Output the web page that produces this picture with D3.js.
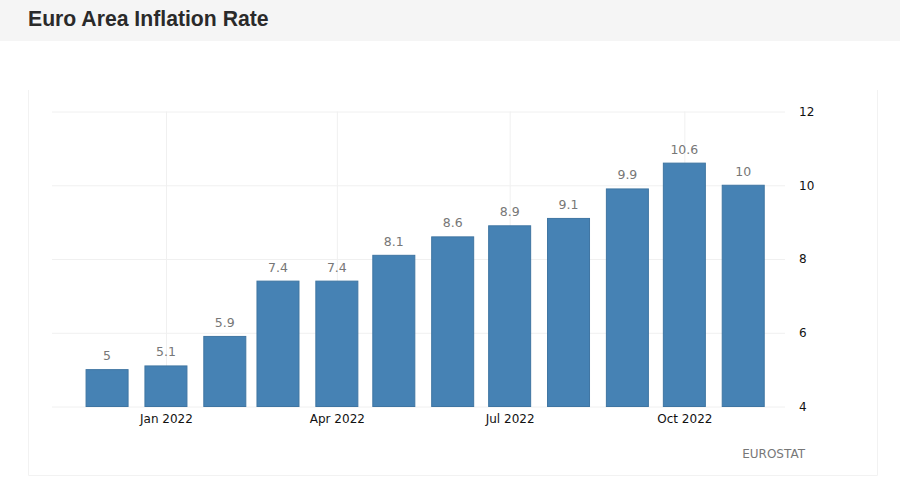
<!DOCTYPE html>
<html>
<head>
<meta charset="utf-8">
<script src="https://cdn.jsdelivr.net/npm/d3@7"></script>
<style>
  html, body { margin: 0; padding: 0; background: #fff; }
  svg { display: block; }
  .tick-label { font-family: "DejaVu Sans", sans-serif; font-size: 12px; fill: #111; }
  .value { font-family: "DejaVu Sans", sans-serif; font-size: 12.5px; fill: #777; text-anchor: middle; }
  .grid line { stroke: #f0f0f0; }
  .grid path { display: none; }
</style>
</head>
<body>
<div id="chart"></div>
<script>
const parseMonth = d3.timeParse('%Y-%m');

const data = [
  ['2021-12', 5], ['2022-01', 5.1], ['2022-02', 5.9], ['2022-03', 7.4],
  ['2022-04', 7.4], ['2022-05', 8.1], ['2022-06', 8.6], ['2022-07', 8.9],
  ['2022-08', 9.1], ['2022-09', 9.9], ['2022-10', 10.6], ['2022-11', 10]
].map(d => ({date: parseMonth(d[0]), value: d[1]}));

const svg = d3.select('#chart').append('svg')
  .attr('width', 900)
  .attr('height', 503);

// Grey title strip
svg.append('rect')
  .attr('width', 900)
  .attr('height', 41)
  .attr('fill', '#f5f5f5');

svg.append('text')
  .attr('x', 28)
  .attr('y', 26)
  .attr('font-family', '"Liberation Sans", Arial, sans-serif')
  .attr('font-size', 21.2)
  .attr('font-weight', 700)
  .attr('fill', '#2a2a2a')
  .text('Euro Area Inflation Rate');

// Chart panel frame
svg.append('path')
  .attr('d', 'M28.5,90V475.5H877.5V90')
  .attr('fill', 'none')
  .attr('stroke', '#f2f2f2');

const x = d3.scaleTime()
  .domain([new Date(2021, 10, 2), new Date(2022, 10, 23)])
  .range([52, 785]);

const y = d3.scaleLinear()
  .domain([4, 12])
  .range([406.5, 111.5]);

const barWidth = 42;
const xTicks = [new Date(2022, 0, 1), new Date(2022, 3, 1), new Date(2022, 6, 1), new Date(2022, 9, 1)];

// Grid lines
svg.append('g')
  .attr('class', 'grid')
  .attr('transform', 'translate(0,406.5)')
  .call(d3.axisBottom(x).tickValues(xTicks).tickSize(-295).tickFormat(''));

svg.append('g')
  .attr('class', 'grid')
  .attr('transform', 'translate(785,0)')
  .call(d3.axisLeft(y).tickValues([4, 6, 8, 10, 12]).tickSize(733).tickFormat(''));

// Bars
svg.selectAll('.bar')
  .data(data)
  .enter().append('rect')
  .attr('class', 'bar')
  .attr('x', d => x(d.date) - barWidth / 2)
  .attr('y', d => y(d.value))
  .attr('width', barWidth)
  .attr('height', d => y(4) - y(d.value))
  .attr('fill', '#4682b4')
  .attr('stroke', '#3f75a2')
  .attr('stroke-width', 1);

// Value labels
svg.selectAll('.value')
  .data(data)
  .enter().append('text')
  .attr('class', 'value')
  .attr('x', d => x(d.date))
  .attr('y', d => y(d.value) - 9.5)
  .text(d => d.value);

// Axis labels
const xAxis = svg.append('g')
  .attr('transform', 'translate(0,406.5)')
  .call(d3.axisBottom(x).tickValues(xTicks).tickSize(0).tickPadding(8).tickFormat(d3.timeFormat('%b %Y')));
xAxis.select('.domain').remove();
xAxis.selectAll('text').attr('class', 'tick-label');

const yAxis = svg.append('g')
  .attr('transform', 'translate(785,0)')
  .call(d3.axisRight(y).tickValues([4, 6, 8, 10, 12]).tickSize(0).tickPadding(14));
yAxis.select('.domain').remove();
yAxis.selectAll('text').attr('class', 'tick-label');

svg.append('text')
  .attr('x', 805)
  .attr('y', 458)
  .attr('text-anchor', 'end')
  .attr('font-family', '"DejaVu Sans", sans-serif')
  .attr('font-size', 12)
  .attr('fill', '#777')
  .text('EUROSTAT');
</script>
</body>
</html>
